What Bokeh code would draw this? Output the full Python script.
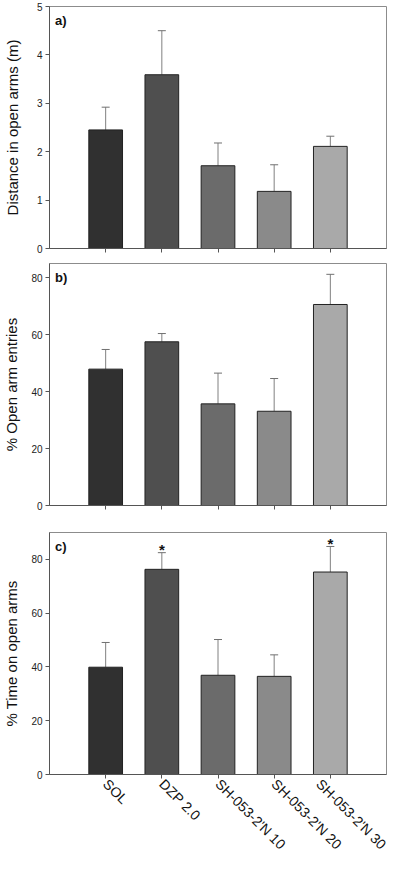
from bokeh.plotting import figure
from bokeh.layouts import column
from bokeh.models import FixedTicker, ColumnDataSource, Whisker, TeeHead, Range1d, Label
from bokeh.core.properties import value
from bokeh.embed import file_html
from bokeh.resources import INLINE

# ---------------- data ----------------
categories = ["SOL", "DZP 2.0", "SH-053-2'N 10", "SH-053-2'N 20", "SH-053-2'N 30"]
bar_colors = ["#303030", "#4f4f4f", "#6b6b6b", "#8a8a8a", "#a9a9a9"]

distance_mean = [2.45, 3.59, 1.71, 1.18, 2.11]
distance_err = [0.47, 0.91, 0.47, 0.55, 0.21]

entries_mean = [47.9, 57.5, 35.7, 33.1, 70.6]
entries_err = [6.9, 2.9, 10.8, 11.5, 10.6]

time_mean = [39.9, 76.3, 36.9, 36.5, 75.3]
time_err = [9.2, 6.2, 13.3, 8.0, 9.5]
time_significant = [False, True, False, False, True]

panel_letters = ["a)", "b)", "c)"]
y_titles = ["Distance in open arms (m)", "% Open arm entries", "% Time on open arms"]
y_max = [5, 85, 90]
y_ticks = [[0, 1, 2, 3, 4, 5], [0, 20, 40, 60, 80], [0, 20, 40, 60, 80]]

FONT = "Liberation Sans"
FRAME_W = 337
FRAME_H = 242


def make_panel(means, errs, letter, ytitle, ymax, yticks, top_border, bottom_border,
               show_labels, label_standoff, stars=None):
    xs = list(range(1, len(categories) + 1))
    p = figure(frame_width=FRAME_W, frame_height=FRAME_H, output_backend="svg",
               toolbar_location=None, x_range=Range1d(0, len(categories) + 1),
               y_range=Range1d(0, ymax), min_border_left=44, min_border_right=3,
               min_border_top=top_border, min_border_bottom=bottom_border,
               background_fill_color="white", border_fill_color="white")
    src = ColumnDataSource(dict(
        x=xs, top=means, upper=[m + e for m, e in zip(means, errs)], color=bar_colors))
    p.vbar(x="x", top="top", width=0.6, fill_color="color", line_color="#222222",
           line_width=1, source=src)
    w = Whisker(base="x", lower="top", upper="upper", source=src,
                upper_head=TeeHead(size=8, line_color="#707070", line_width=1),
                lower_head=None, line_color="#808080", line_width=1)
    p.add_layout(w)

    if stars is not None:
        sx = [x for x, s in zip(xs, stars) if s]
        sy = [m + e + ymax * 0.012 for m, e, s in zip(means, errs, stars) if s]
        p.text(x=sx, y=sy, text=["*"] * len(sx), text_align="center",
               text_baseline="alphabetic", text_font=value(FONT),
               text_font_size="15px", text_font_style="bold", text_color="#111111")

    lab = Label(x=0.1, y=ymax * (1 - 6.0 / FRAME_H), text=letter, text_font=FONT,
                text_font_size="13px", text_font_style="bold", text_baseline="top",
                text_align="left", text_color="#111111")
    p.add_layout(lab)

    p.xgrid.visible = False
    p.ygrid.visible = False
    p.outline_line_color = "#8c8c8c"
    p.outline_line_width = 1

    xa = p.xaxis[0]
    xa.ticker = FixedTicker(ticks=xs)
    xa.major_tick_out = 4
    xa.major_tick_in = 0
    xa.minor_tick_out = 0
    xa.minor_tick_in = 0
    xa.axis_line_color = "#555555"
    xa.major_tick_line_color = "#555555"
    xa.major_label_standoff = 3
    if show_labels:
        xa.major_label_overrides = {x: c for x, c in zip(xs, categories)}
        xa.major_label_orientation = -0.785398
        xa.major_label_text_font = FONT
        xa.major_label_text_font_size = "14px"
        xa.major_label_text_color = "#111111"
    else:
        xa.major_label_overrides = {x: "" for x in xs}
        xa.major_label_standoff = 0

    ya = p.yaxis[0]
    ya.ticker = FixedTicker(ticks=yticks)
    ya.major_tick_out = 4
    ya.major_tick_in = 0
    ya.minor_tick_out = 0
    ya.minor_tick_in = 0
    ya.axis_line_color = "#555555"
    ya.major_tick_line_color = "#555555"
    ya.major_label_standoff = 3
    ya.major_label_text_font = FONT
    ya.major_label_text_font_size = "10px"
    ya.major_label_text_color = "#222222"
    ya.axis_label = ytitle
    ya.axis_label_text_font = FONT
    ya.axis_label_text_font_size = "15px"
    ya.axis_label_text_font_style = "normal"
    ya.axis_label_text_color = "#111111"
    ya.axis_label_standoff = label_standoff
    return p


pa = make_panel(distance_mean, distance_err, panel_letters[0], y_titles[0], y_max[0],
                y_ticks[0], 6, 8, False, 13)
pb = make_panel(entries_mean, entries_err, panel_letters[1], y_titles[1], y_max[1],
                y_ticks[1], 7, 12, False, 8)
pc = make_panel(time_mean, time_err, panel_letters[2], y_titles[2], y_max[2],
                y_ticks[2], 15, 80, True, 8, stars=time_significant)

layout = column(pa, pb, pc, spacing=0)

open("out.html", "w").write(file_html(layout, INLINE))
